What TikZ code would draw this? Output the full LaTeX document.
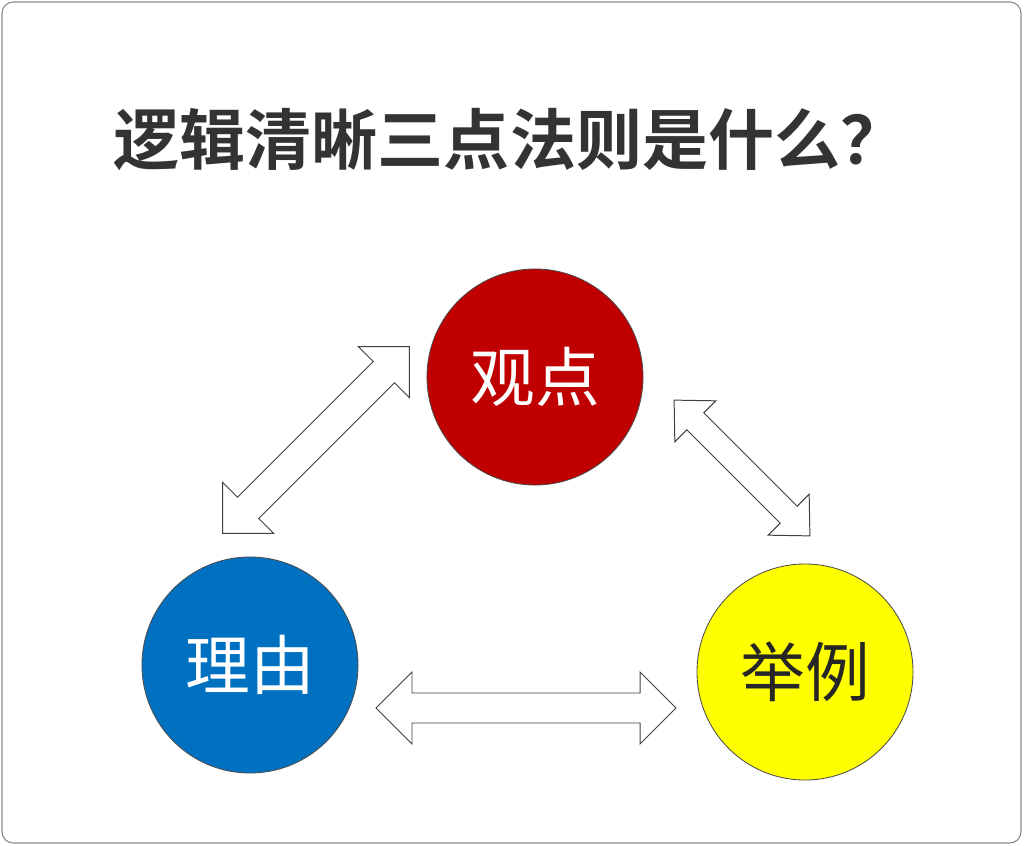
\documentclass[tikz,border=0pt]{standalone}
\usepackage{fontspec}
\newfontfamily\cjk{Noto Sans CJK SC}
\newfontfamily\cjkbold{Noto Sans CJK SC Bold}
\definecolor{viewred}{HTML}{C00000}
\definecolor{reasonblue}{HTML}{0070C0}
\definecolor{caseyellow}{HTML}{FFFF00}
\tikzset{
  ball/.style={circle, draw=black!70, line width=0.6pt, minimum size=5.4cm, inner sep=0pt, font=\cjk\fontsize{46}{54}\selectfont},
  blockarrow/.style={draw=black!75, fill=white, line width=0.7pt, line join=miter}
}
% #1 middle, #2 angle, #3 half length, #4 head length, #5 head half width, #6 shaft half width
\newcommand\dblarrow[6]{%
  \begin{scope}[shift={#1}, rotate=#2]
    \draw[blockarrow] (-#3,0) -- (-#3+#4,-#5) -- (-#3+#4,-#6) -- (#3-#4,-#6) -- (#3-#4,-#5)
      -- (#3,0) -- (#3-#4,#5) -- (#3-#4,#6) -- (-#3+#4,#6) -- (-#3+#4,#5) -- cycle;
  \end{scope}}
\begin{document}
\begin{tikzpicture}[x=0.025cm, y=-0.025cm]
\useasboundingbox (0,0) rectangle (1024,846);
\draw[rounded corners=8pt, draw=black!45, line width=0.8pt] (2,2) rectangle (1021,843);
\node[text=black!80] (title) at (510,140) {\cjkbold\fontsize{47}{56}\selectfont 逻辑清晰三点法则是什么？};
% circles
\node[ball, fill=viewred, text=white] (view) at (535,377) {观点};
\node[ball, fill=reasonblue, text=white] (reason) at (250,665) {理由};
\node[ball, fill=caseyellow, text=black!85] (case) at (805,672) {举例};
% arrows
\dblarrow{(316,440)}{45}{132}{36}{36}{15}
\dblarrow{(742,468)}{-45}{96}{30}{29}{12}
\dblarrow{(526,708)}{0}{150}{36}{36}{15}
\end{tikzpicture}
\end{document}
